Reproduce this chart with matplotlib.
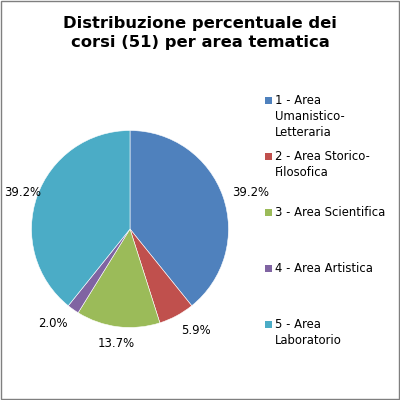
import numpy as np
import matplotlib.pyplot as plt
from matplotlib.patches import Rectangle
from matplotlib.transforms import offset_copy

# Data
areas = ['1 - Area\nUmanistico-\nLetteraria', '2 - Area Storico-\nFilosofica',
         '3 - Area Scientifica', '4 - Area Artistica', '5 - Area\nLaboratorio']
corsi = [20, 3, 7, 1, 20]
colors = ['#4F81BD', '#C0504D', '#9BBB59', '#8064A2', '#4BACC6']
title = 'Distribuzione percentuale dei\ncorsi (51) per area tematica'

plt.rcParams['font.family'] = ['DejaVu Sans']

W = H = 400
fig = plt.figure(figsize=(4, 4), dpi=100)
fig.patch.set_facecolor('white')

# pie axes: center (130, 229) px, radius 98.5 px
cx, cy, r = 130, 229, 98.5
ax = fig.add_axes([(cx - r) / W, (H - cy - r) / H, 2 * r / W, 2 * r / H])
wedges, _ = ax.pie(corsi, colors=colors, startangle=90, counterclock=False,
                   wedgeprops={'edgecolor': 'white', 'linewidth': 0.4})
ax.set_xlim(-1, 1)
ax.set_ylim(-1, 1)
ax.set_aspect('equal')
ax.axis('off')

# percentage labels outside the slices, aligned like Excel's best fit
renderer = fig.canvas.get_renderer()
total = sum(corsi)
for w, v in zip(wedges, corsi):
    ang = np.deg2rad((w.theta1 + w.theta2) / 2)
    c, s = np.cos(ang), np.sin(ang)
    ha = 'left' if c > 0.3 else ('right' if c < -0.3 else 'center')
    va = 'top' if s < -0.7 else 'center'
    t = ax.text(1.1 * c, 1.1 * s, f'{100 * v / total:.1f}%', ha=ha, va=va,
                fontsize=8.4, clip_on=False)
    # keep the label inside the chart area, as Excel does
    x0 = t.get_window_extent(renderer).x0
    if x0 < 4:
        t.set_transform(offset_copy(ax.transData, fig=fig, x=4 - x0, units='dots'))

fig.text(200 / W, 1 - 33 / H, title, ha='center', va='center',
         fontsize=11.8, fontweight='bold', linespacing=1.4)

# legend drawn by hand to keep Excel-like spacing
for i, (lab, col) in enumerate(zip(areas, colors)):
    y0 = 100.7 + 56 * i
    fig.patches.append(Rectangle((265 / W, 1 - (y0 + 3.5) / H), 7 / W, 7 / H,
                                 transform=fig.transFigure, facecolor=col,
                                 edgecolor='none'))
    for j, line in enumerate(lab.split('\n')):
        fig.text(275 / W, 1 - (y0 + 16 * j) / H, line, ha='left', va='center',
                 fontsize=8.4)

# outer border
fig.patches.append(Rectangle((0.002, 0.002), 0.995, 0.995, transform=fig.transFigure,
                             fill=False, edgecolor='#7f7f7f', linewidth=1))

fig.savefig('out.png', dpi=100)
